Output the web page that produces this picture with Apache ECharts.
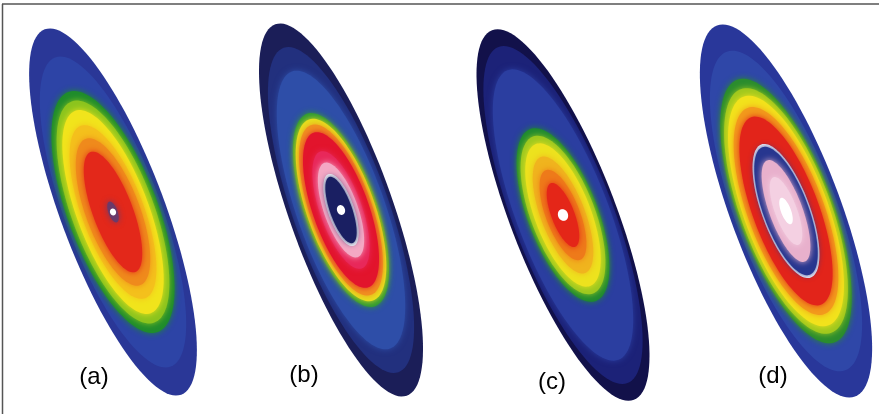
<!DOCTYPE html>
<html><head><meta charset="utf-8">
<script src="https://cdn.jsdelivr.net/npm/echarts@6/dist/echarts.min.js"></script>
<style>html,body{margin:0;padding:0;background:#fff}#c{width:879px;height:414px}</style>
</head><body><div id="c"></div>
<script>
// panel metadata
const panelLabels = ['(a)', '(b)', '(c)', '(d)'];
const centerX = [113, 341, 563, 786];
const centerY = [212, 210, 215, 211];
const tiltDeg = [20.5, 19.5, 21, 20.4];
const labelX = [94, 304, 552, 773];
const labelY = [377, 375, 382, 376];

// contour band semi-axes (outer to inner), per panel
const majorA = [195, 165, 128, 118, 108, 92, 78, 64, 11, 3.5];
const minorA = [52, 48, 45, 41, 36, 31, 27, 20, 4.5, 3];
const majorB = [197, 172, 147, 102, 96, 90, 82, 62, 50, 38, 35, 5];
const minorB = [52, 48, 44, 36, 34, 31, 28, 21, 17, 13, 11, 4];
const majorC = [198, 180, 155, 92, 84, 76, 62, 48, 34, 6];
const minorC = [53, 50, 46, 35, 32, 28, 22, 17, 11.5, 5];
const majorD = [198, 170, 140, 130, 122, 110, 100, 71, 68, 54, 36, 14];
const minorD = [55, 51, 47, 45, 42, 38, 33, 24, 22.5, 16.5, 11, 5];

// band colours (styles)
const colorsA = ['#2a3797', '#2d44a6', '#1f8c2c', '#8cc41e', '#f1e41c', '#f4c01c', '#ef8a1c', '#e3281a', '#6a3a6a', '#ffffff'];
const colorsB = ['#1b1e58', '#22307e', '#2e4ea8', '#2f9a34', '#e6e01e', '#f09020', '#e2142c', '#e8285a', '#f4a8c4', '#ffffff', '#1a1f62', '#ffffff'];
const colorsC = ['#12114a', '#1c2278', '#2b3ea0', '#1f8a30', '#9cc820', '#ede21e', '#f0b41e', '#ee7a1a', '#e42618', '#ffffff'];
const colorsD = ['#29379a', '#2f47a8', '#2a8c2e', '#a0c81e', '#f2e21c', '#f29a1c', '#e2241a', '#ffffff', '#27368f', '#e8b0cc', '#f4d0e2', '#ffffff'];

const majors = [majorA, majorB, majorC, majorD];
const minors = [minorA, minorB, minorC, minorD];
const colors = [colorsA, colorsB, colorsC, colorsD];

const bandData = [];
for (let p = 0; p < 4; p++) {
  for (let i = 0; i < majors[p].length; i++) {
    bandData.push({
      value: [centerX[p], centerY[p], majors[p][i], minors[p][i], tiltDeg[p], i],
      itemStyle: { color: colors[p][i] }
    });
  }
}

function renderEllipse(params, api) {
  const cx = api.value(0), cy = api.value(1);
  const A = api.value(2), B = api.value(3);
  const th = api.value(4) * Math.PI / 180;
  const idx = api.value(5);
  const color = api.visual('color');
  const pts = [];
  const N = 120;
  for (let k = 0; k < N; k++) {
    const t = k / N * 2 * Math.PI;
    const v = A * Math.sin(t), u = B * Math.cos(t);
    const x = cx + v * Math.sin(th) + u * Math.cos(th);
    const y = cy + v * Math.cos(th) - u * Math.sin(th);
    pts.push(api.coord([x, y]));
  }
  const soft = idx > 1 && color !== '#ffffff';
  return {
    type: 'polygon',
    shape: { points: pts },
    style: {
      fill: color,
      shadowBlur: soft ? 6 : 0,
      shadowColor: soft ? color : 'transparent'
    }
  };
}

function renderLabel(params, api) {
  const p = api.coord([api.value(0), api.value(1)]);
  return {
    type: 'text',
    x: p[0], y: p[1],
    style: {
      text: panelLabels[params.dataIndex],
      fill: '#000',
      fontSize: 24,
      fontFamily: 'Liberation Sans, Arial, sans-serif',
      align: 'center',
      verticalAlign: 'middle'
    }
  };
}

const chart = echarts.init(document.getElementById('c'), null, { renderer: 'canvas' });
chart.setOption({
  animation: false,
  backgroundColor: '#ffffff',
  grid: { left: 0, right: 0, top: 0, bottom: 0 },
  xAxis: { type: 'value', min: 0, max: 879, show: false },
  yAxis: { type: 'value', min: 0, max: 414, inverse: true, show: false },
  graphic: [
    { type: 'line', shape: { x1: 2.5, y1: 414, x2: 2.5, y2: 4 }, style: { stroke: '#555', lineWidth: 1.5 } },
    { type: 'line', shape: { x1: 2, y1: 4, x2: 879, y2: 4 }, style: { stroke: '#555', lineWidth: 1.5 } }
  ],
  series: [
    {
      type: 'custom',
      renderItem: renderEllipse,
      data: bandData,
      silent: true
    },
    {
      type: 'custom',
      renderItem: renderLabel,
      data: labelX.map((x, i) => [x, labelY[i]]),
      silent: true
    }
  ]
});
</script></body></html>
